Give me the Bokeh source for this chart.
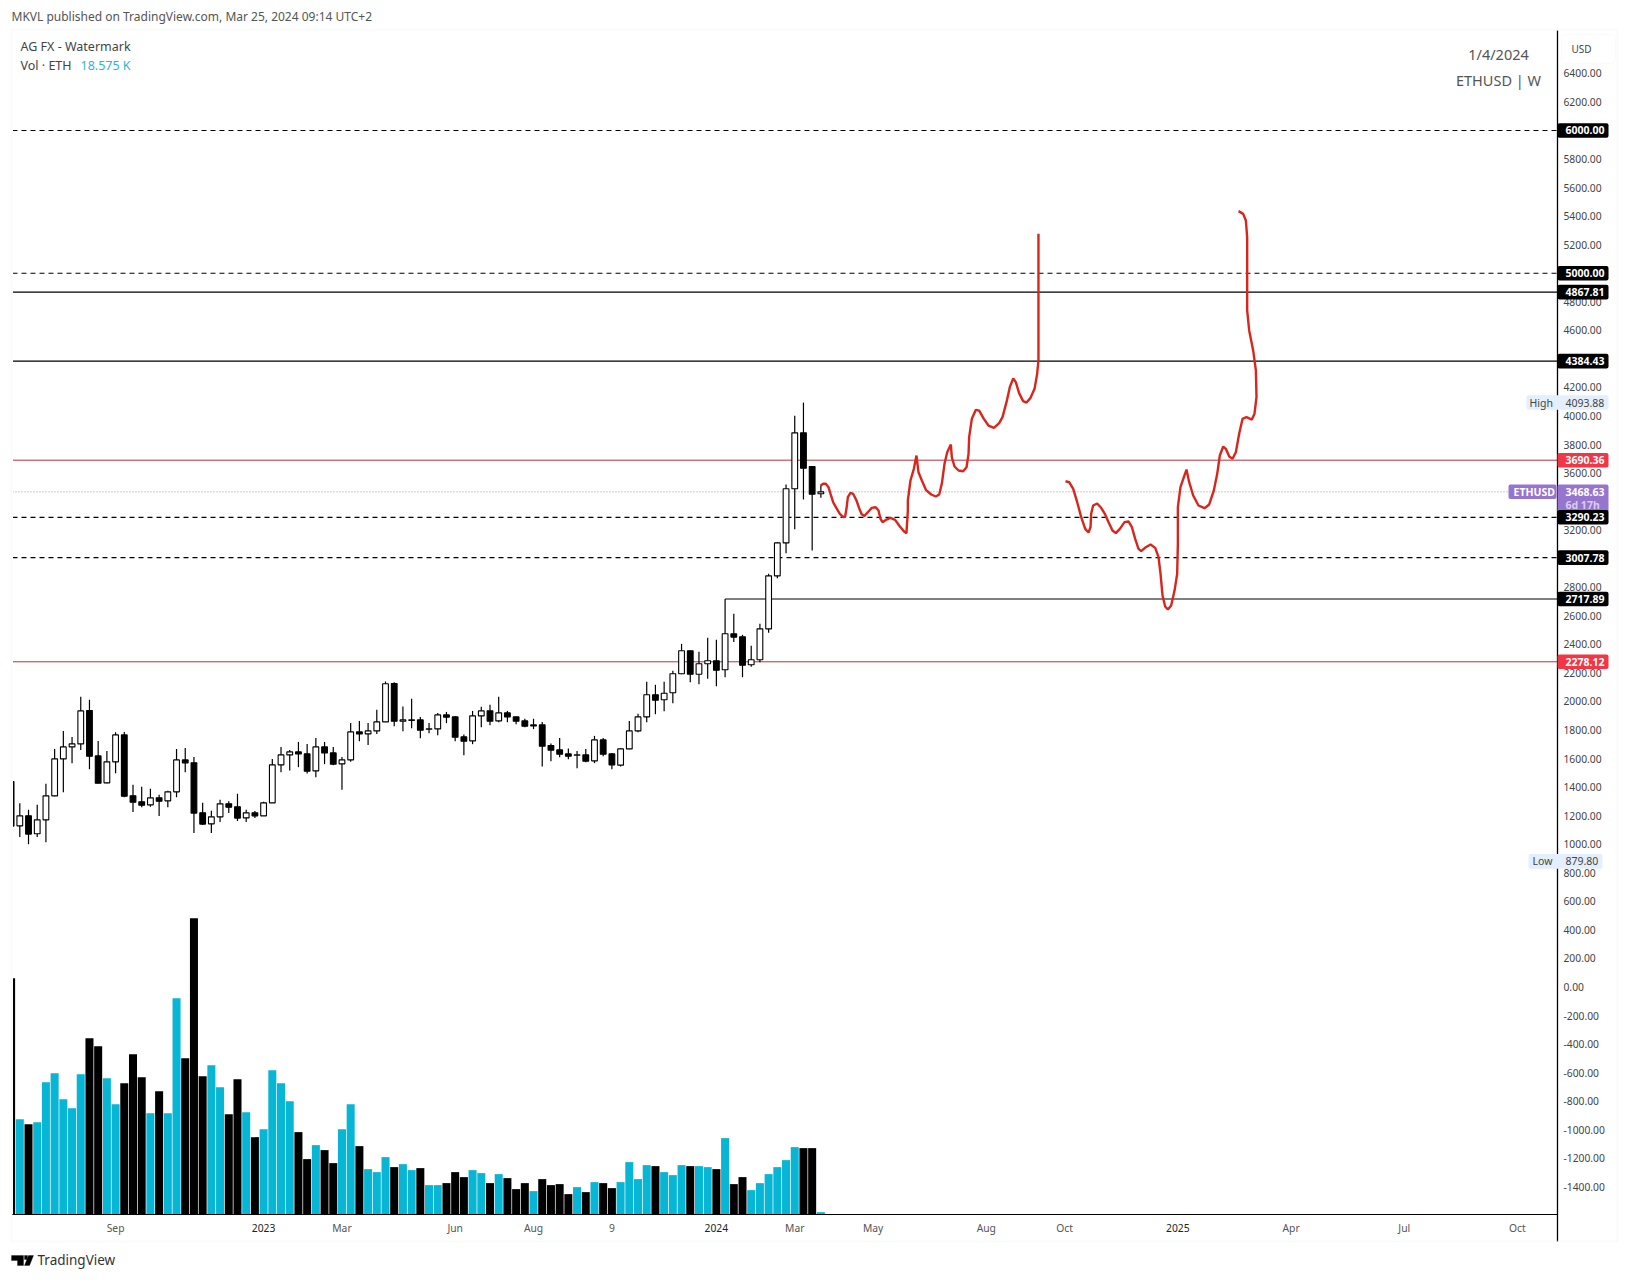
from bokeh.embed import file_html
from bokeh.models import (BoxAnnotation, FixedTicker, Label, LinearAxis,
                          PolyAnnotation, Range1d)
from bokeh.plotting import figure
from bokeh.resources import INLINE

FONT = 'Noto Sans'
TEAL = '#07b5d4'
RED = '#f23645'
PURPLE = '#9575cd'
PALE_BLUE = '#e3effd'

# weekly ETHUSD candles, first one is cut by the left edge
opens = [1440, 1129, 1199, 1073, 1171, 1339, 1598, 1682, 1703, 1937, 1619,
         1430, 1577, 1766, 1339, 1297, 1276, 1325, 1304, 1367, 1591, 1570,
         1220, 1143, 1192, 1283, 1262, 1185, 1220, 1199, 1290, 1556, 1626,
         1647, 1633, 1514, 1682, 1640, 1563, 1591, 1787, 1773, 1794, 1857,
         2126, 1862, 1868, 1871, 1806, 1808, 1906, 1892, 1752, 1724, 1899,
         1934, 1864, 1920, 1892, 1864, 1829, 1836, 1692, 1661, 1633, 1624,
         1626, 1584, 1731, 1633, 1554, 1668, 1794, 1892, 2047, 2012, 2061,
         2194, 2355, 2191, 2264, 2285, 2222, 2474, 2453, 2257, 2292, 2509,
         2880, 3111, 3490, 3882, 3646, 3455]
highs = [1440, 1288, 1241, 1276, 1423, 1668, 1794, 1752, 2033, 2012, 1724,
         1654, 1785, 1787, 1416, 1402, 1388, 1346, 1374, 1668, 1675, 1612,
         1290, 1234, 1311, 1302, 1353, 1241, 1232, 1297, 1598, 1682, 1661,
         1717, 1703, 1745, 1717, 1682, 1612, 1850, 1864, 1850, 1942, 2140,
         2135, 1965, 2019, 1892, 1850, 1920, 1927, 1899, 1769, 1934, 1963,
         1977, 2033, 1934, 1895, 1879, 1879, 1857, 1706, 1745, 1671, 1654,
         1668, 1759, 1745, 1640, 1670, 1864, 1914, 2138, 2117, 2138, 2215,
         2404, 2358, 2348, 2446, 2432, 2717.89, 2614, 2467, 2390, 2544, 2894,
         3116, 3520, 4001, 4093.88, 3648, 3513]
lows = [1120, 1050, 1000, 1050, 1014, 1337, 1365, 1568, 1661, 1526, 1428,
        1428, 1498, 1330, 1225, 1260, 1262, 1197, 1260, 1330, 1505, 1078,
        1134, 1078, 1155, 1218, 1162, 1155, 1183, 1197, 1290, 1505, 1517,
        1540, 1496, 1470, 1561, 1554, 1381, 1577, 1722, 1696, 1773, 1857,
        1827, 1792, 1813, 1743, 1778, 1764, 1848, 1722, 1624, 1701, 1820,
        1834, 1855, 1855, 1841, 1820, 1806, 1545, 1582, 1610, 1596, 1533,
        1575, 1568, 1617, 1526, 1545, 1666, 1785, 1855, 1911, 1932, 1988,
        2191, 2135, 2121, 2159, 2107, 2170, 2416, 2170, 2243, 2275, 2481,
        2864, 3039, 3207, 3415, 3058, 3427]
closes = [1127, 1199, 1071, 1171, 1339, 1598, 1682, 1703, 1934, 1617, 1428,
          1577, 1766, 1337, 1295, 1274, 1325, 1302, 1367, 1591, 1570, 1218,
          1141, 1192, 1283, 1260, 1183, 1220, 1199, 1290, 1556, 1626, 1647,
          1633, 1512, 1682, 1640, 1561, 1591, 1787, 1773, 1794, 1857, 2124,
          1862, 1871, 1871, 1799, 1808, 1906, 1890, 1750, 1722, 1899, 1934,
          1862, 1920, 1892, 1862, 1827, 1836, 1687, 1659, 1631, 1617, 1626,
          1582, 1731, 1631, 1556, 1668, 1794, 1892, 2047, 2009, 2058, 2194,
          2355, 2191, 2264, 2285, 2219, 2474, 2451, 2254, 2292, 2509, 2880,
          3111, 3490, 3882, 3634, 3452, 3468.63]
# volume in thousands
volumes = [1891, 763, 723, 739, 1059, 1131, 923, 851, 1123, 1411, 1347, 1091,
           883, 1051, 1283, 1099, 811, 987, 811, 1731, 1251, 2371, 1107, 1195,
           1019, 803, 1083, 819, 619, 683, 1155, 1051, 907, 659, 443, 555, 515,
           411, 683, 883, 547, 363, 339, 459, 379, 403, 355, 371, 235, 235,
           251, 339, 299, 355, 331, 251, 323, 291, 203, 251, 187, 283, 235,
           243, 163, 219, 179, 259, 251, 211, 259, 419, 283, 395, 387, 339,
           315, 395, 387, 387, 379, 363, 611, 243, 299, 195, 251, 323, 379,
           435, 539, 531, 531, 18.575]

# hand drawn projections (bar number, price)
path1_bars = [91.96, 92.26, 92.57, 92.88, 93.11, 93.41, 93.79, 94.18, 94.56,
              94.79, 94.94, 95.10, 95.40, 95.71, 96.09, 96.40, 96.70, 97.01,
              97.39, 97.85, 98.31, 98.62, 98.85, 99.08, 99.46, 100.00, 100.53,
              100.99, 101.53, 101.83, 101.99, 101.99, 102.29, 102.68, 102.98,
              103.21, 103.60, 104.06, 104.67, 105.20, 105.59, 105.89, 106.20,
              106.51, 106.93, 107.04, 107.35, 107.81, 108.34, 108.73, 108.96,
              109.03, 109.34, 109.80, 110.18, 110.72, 111.25, 111.87, 112.48,
              112.86, 113.32, 113.70, 114.09, 114.39, 114.77, 115.23, 115.62,
              116.08, 116.54, 116.84, 116.99, 116.99, 116.99]
path1_prices = [3511, 3525, 3525, 3501, 3455, 3396, 3354, 3314, 3291, 3296,
                3350, 3431, 3462, 3455, 3408, 3354, 3310, 3300, 3326, 3356,
                3361, 3338, 3279, 3256, 3272, 3286, 3272, 3233, 3193, 3179,
                3338, 3408, 3548, 3630, 3723, 3606, 3548, 3483, 3450, 3436,
                3450, 3525, 3665, 3746, 3800, 3711, 3646, 3618, 3613, 3641,
                3735, 3852, 3980, 4043, 4038, 3980, 3933, 3917, 3950, 3992,
                4097, 4202, 4263, 4237, 4160, 4104, 4094, 4127, 4190, 4295,
                4389, 4739, 5276]
path2_bars = [120.10, 120.52, 120.98, 121.44, 121.90, 122.36, 122.74, 122.97,
              123.04, 123.27, 123.73, 124.19, 124.65, 125.04, 125.49, 125.88,
              126.34, 126.87, 127.33, 127.72, 128.10, 128.48, 128.79, 129.32,
              129.86, 130.40, 130.78, 131.01, 131.24, 131.54, 131.85, 132.23,
              132.62, 132.92, 133.00, 133.00, 133.30, 133.69, 133.99, 134.30,
              134.76, 135.37, 136.06, 136.60, 137.13, 137.52, 137.82, 138.21,
              138.51, 138.90, 139.28, 139.66, 140.04, 140.43, 140.88, 141.50,
              141.80, 142.03, 141.96, 141.65, 141.19, 140.96, 140.96, 140.96,
              140.81, 140.50, 139.97]
path2_prices = [3543, 3536, 3490, 3396, 3291, 3209, 3184, 3221, 3314, 3373,
                3387, 3357, 3310, 3256, 3198, 3179, 3209, 3256, 3261, 3221,
                3139, 3069, 3053, 3081, 3100, 3076, 3011, 2894, 2742, 2665,
                2644, 2672, 2777, 2894, 3104, 3361, 3501, 3571, 3625, 3536,
                3443, 3373, 3354, 3380, 3478, 3595, 3723, 3786, 3770, 3716,
                3700, 3746, 3875, 3980, 3992, 3975, 4015, 4132, 4319, 4459,
                4599, 4739, 4972, 5253, 5369, 5416, 5435]

dashed_levels = [6000, 5000, 3290.23, 3007.78]
solid_levels = [4867.81, 4384.43]
red_levels = [3690.36, 2278.12]
black_tags = ['6000.00', '5000.00', '4867.81', '4384.43', '3007.78', '2717.89']
red_tags = ['3690.36', '2278.12']
ray_level = 2717.89
ray_start = 81
last_price = 3468.63
swing_level = 3290.23
high_price = 4093.88
low_price = 879.80

price_ticks = [-1400, -1200, -1000, -800, -600, -400, -200, 0, 200, 400, 600,
               800, 1000, 1200, 1400, 1600, 1800, 2000, 2200, 2400, 2600, 2800,
               3000, 3200, 3400, 3600, 3800, 4000, 4200, 4400, 4600, 4800, 5000,
               5200, 5400, 5600, 5800, 6000, 6200, 6400]
month_ticks = [11, 37, 50, 59, 68, 89, 98, 111, 120, 146, 159, 172]
month_labels = ['Sep', 'Mar', 'Jun', 'Aug', '9', 'Mar', 'May', 'Aug', 'Oct',
                'Apr', 'Jul', 'Oct']
year_ticks = [28, 80, 133]
year_labels = ['2023', '2024', '2025']

bars = list(range(-1, len(opens) - 1))
up = [c >= o for o, c in zip(opens, closes)]
body_colors = ['white' if u else 'black' for u in up]
vol_colors = [TEAL if u else 'black' for u in up]
body_tops = [max(o, c) for o, c in zip(opens, closes)]
body_bottoms = [min(o, c) for o, c in zip(opens, closes)]

# the frame fills the whole canvas, annotations get clipped to it otherwise.
# axes with fixed_location take no room in their panel
LEFT_EDGE = -0.84
RIGHT_EDGE = 176.6
BOTTOM_EDGE = -1594
TOP_EDGE = 6700
SCALE_BOTTOM = -1783
p = figure(width=1625, height=1275, output_backend='svg', toolbar_location=None,
           x_range=Range1d(-2.217, 184.41), y_range=Range1d(-2021, 6910.5),
           x_axis_location=None, y_axis_location=None,
           min_border=0)
p.extra_y_ranges['volume'] = Range1d(-488, 9712)
p.grid.visible = False
p.outline_line_color = None


def add_axis(ax, side, standoff, color='#444444'):
    ax.major_tick_line_color = None
    ax.minor_tick_line_color = None
    ax.major_label_text_font = FONT
    ax.major_label_text_font_size = '10.3px'
    ax.major_label_text_color = color
    ax.major_label_standoff = standoff
    p.add_layout(ax, side)


add_axis(LinearAxis(ticker=FixedTicker(ticks=price_ticks), fixed_location=RIGHT_EDGE,
                    major_label_overrides={t: '%.2f' % t for t in price_ticks},
                    axis_line_color=None), 'right', 0)
add_axis(LinearAxis(ticker=FixedTicker(ticks=month_ticks), fixed_location=BOTTOM_EDGE,
                    bounds=(LEFT_EDGE, RIGHT_EDGE), axis_line_color='black',
                    major_label_overrides=dict(zip(month_ticks, month_labels))),
         'below', 0, '#555555')
add_axis(LinearAxis(ticker=FixedTicker(ticks=year_ticks), fixed_location=BOTTOM_EDGE,
                    bounds=(LEFT_EDGE, RIGHT_EDGE), axis_line_color='black',
                    major_label_overrides=dict(zip(year_ticks, year_labels))),
         'below', 3, '#222222')

# volume first so that it stays under the lines
p.vbar(bars, width=0.92, top=volumes, bottom=0, fill_color=vol_colors,
       line_color=None, y_range_name='volume')

for lvl in dashed_levels:
    p.line([LEFT_EDGE, RIGHT_EDGE], [lvl, lvl], color='black', line_width=1.2,
           line_dash=[5, 4])
for lvl in solid_levels:
    p.line([LEFT_EDGE, RIGHT_EDGE], [lvl, lvl], color='black', line_width=1.2)
for lvl in red_levels:
    p.line([LEFT_EDGE, RIGHT_EDGE], [lvl, lvl], color='#b5313a', line_width=1)
p.line([LEFT_EDGE, RIGHT_EDGE], [last_price, last_price], color='#9a96b4',
       line_width=1, line_dash=[1, 2])
p.line([ray_start, RIGHT_EDGE], [ray_level, ray_level], color='black', line_width=1.2)
p.line([RIGHT_EDGE, RIGHT_EDGE], [SCALE_BOTTOM, TOP_EDGE], color='black', line_width=1.3)

p.segment(bars, highs, bars, lows, color='black', line_width=1.2)
p.vbar(bars, width=0.66, top=body_tops, bottom=body_bottoms,
       fill_color=body_colors, line_color='black', line_width=1.1)

p.line(path1_bars, path1_prices, color='#d8261c', line_width=2.4)
p.line(path2_bars, path2_prices, color='#d8261c', line_width=2.4)

# hides the part of the first candle left of the chart
p.quad(left=[-2.217], right=[LEFT_EDGE], top=[6910], bottom=[-2021], color='white')


def canvas_text(x, y, text, size, color='#444444', align='left'):
    p.add_layout(Label(x=x, y=y, x_units='canvas', y_units='canvas', text=text,
                       text_font=FONT, text_font_size=size, text_color=color,
                       text_align=align, text_baseline='middle'))


def tag_box(left, right, top, bottom, color):
    p.add_layout(BoxAnnotation(left=left, right=right, top=top, bottom=bottom,
                               left_units='canvas', right_units='canvas',
                               fill_color=color, fill_alpha=1, line_color=None,
                               border_radius=2))


def tag_text(x, price, text, color='white', style='bold'):
    p.add_layout(Label(x=x, y=price, x_units='canvas', y_units='data',
                       text=text, text_font=FONT, text_font_size='10.5px',
                       text_font_style=style, text_color=color,
                       text_baseline='middle'))


def price_tag(text, price, bg, color='white'):
    tag_box(1557, 1608, price + TAG_HALF, price - TAG_HALF, bg)
    tag_text(1565, price, text, color)


TAG_HALF = 51

# frame around chart and scale
p.add_layout(BoxAnnotation(left=11, right=1617, top=29, bottom=1241,
                           left_units='canvas', right_units='canvas',
                           top_units='canvas', bottom_units='canvas',
                           fill_alpha=0, line_color='#eceef2', line_width=2))

canvas_text(11, 16, 'MKVL published on TradingView.com, Mar 25, 2024 09:14 UTC+2',
            '12px', '#555555')
canvas_text(20, 46, 'AG FX - Watermark', '12.5px')
canvas_text(20, 65, 'Vol · ETH', '12.5px')
canvas_text(80, 65, '18.575 K', '12.5px', '#2eb6cf')
canvas_text(1498, 53, '1/4/2024', '14.5px', '#555555', 'center')
canvas_text(1498, 79, 'ETHUSD | W', '14.5px', '#555555', 'center')
canvas_text(37, 1259, 'TradingView', '13.5px', '#333333')

# USD box
p.add_layout(BoxAnnotation(left=1561, right=1615, top=34, bottom=63,
                           left_units='canvas', right_units='canvas',
                           top_units='canvas', bottom_units='canvas',
                           fill_color='white', fill_alpha=1, line_color='#eceef2',
                           line_width=1, border_radius=4))
canvas_text(1571, 48, 'USD', '10px')

# logo
p.add_layout(PolyAnnotation(xs=[11, 23, 23, 17, 17, 11], ys=[1255, 1255, 1265, 1265, 1260, 1260],
                            xs_units='canvas', ys_units='canvas',
                            fill_color='black', fill_alpha=1, line_color='black'))
p.add_layout(PolyAnnotation(xs=[24, 27, 27, 24], ys=[1255, 1255, 1259, 1259],
                            xs_units='canvas', ys_units='canvas',
                            fill_color='black', fill_alpha=1, line_color='black'))
p.add_layout(PolyAnnotation(xs=[28, 33, 29, 24], ys=[1255, 1255, 1265, 1265],
                            xs_units='canvas', ys_units='canvas',
                            fill_color='black', fill_alpha=1, line_color='black'))

for t in black_tags:
    price_tag(t, float(t), 'black')
for t in red_tags:
    price_tag(t, float(t), RED)

# last price tag has a second row with the countdown
tag_box(1557, 1608, last_price + TAG_HALF, last_price - 145, PURPLE)
tag_text(1565, last_price, '%.2f' % last_price)
tag_text(1565, last_price - 93, '6d 17h', '#d9cdf0')
tag_box(1508, 1556, last_price + TAG_HALF, last_price - TAG_HALF, PURPLE)
tag_text(1513, last_price, 'ETHUSD')
price_tag('%.2f' % swing_level, swing_level, 'black')

# high and low of the visible range
tag_box(1526, 1608, high_price + TAG_HALF, high_price - TAG_HALF, PALE_BLUE)
tag_text(1529, high_price, 'High', '#444444', 'normal')
tag_text(1565, high_price, '%.2f' % high_price, '#444444', 'normal')
tag_box(1528, 1602, low_price + TAG_HALF, low_price - TAG_HALF, PALE_BLUE)
tag_text(1532, low_price, 'Low', '#444444', 'normal')
tag_text(1565, low_price, '%.2f' % low_price, '#444444', 'normal')

open('out.html', 'w').write(file_html(p, INLINE))
